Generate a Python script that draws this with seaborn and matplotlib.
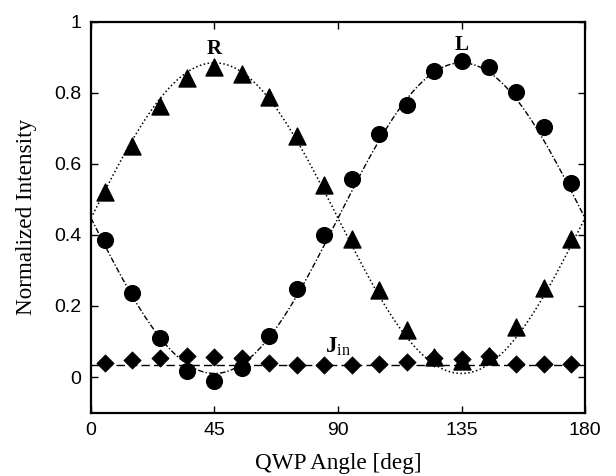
import matplotlib
matplotlib.use("Agg")
import matplotlib.pyplot as plt
import numpy as np
import pandas as pd
import seaborn as sns

# measured data (QWP angle in degrees)
angles = [5, 15, 25, 35, 45, 55, 65, 75, 85, 95, 105, 115, 125, 135, 145, 155, 165, 175]
r_meas = [0.522, 0.652, 0.763, 0.841, 0.872, 0.853, 0.790, 0.680, 0.540,
          0.390, 0.245, 0.132, 0.057, 0.045, 0.059, 0.142, 0.250, 0.390]
l_meas = [0.386, 0.238, 0.109, 0.017, -0.010, 0.024, 0.115, 0.249, 0.400,
          0.557, 0.684, 0.765, 0.863, 0.891, 0.872, 0.802, 0.705, 0.546]
jin_meas = [0.040, 0.048, 0.053, 0.059, 0.057, 0.053, 0.040, 0.034, 0.034,
            0.034, 0.038, 0.043, 0.053, 0.050, 0.059, 0.038, 0.036, 0.036]

# model curve parameters
fit_offset = 0.4475
fit_amplitude = 0.4375
jin_level = 0.034

sns.set_style("ticks")
plt.rcParams["font.family"] = ["Liberation Sans", "DejaVu Sans"]
plt.rcParams["mathtext.fontset"] = "custom"
plt.rcParams["mathtext.rm"] = "Liberation Serif"
plt.rcParams["mathtext.bf"] = "Liberation Serif:bold"
plt.rcParams["text.color"] = "black"
plt.rcParams["axes.labelcolor"] = "black"
plt.rcParams["xtick.color"] = "black"
plt.rcParams["ytick.color"] = "black"
plt.rcParams["axes.edgecolor"] = "black"

fig = plt.figure(figsize=(6.16, 4.76), dpi=100)
ax = fig.add_axes([0.1477, 0.1334, 0.802, 0.8204])

# theory curves R / L
theta = np.linspace(0, 180, 361)
model = pd.DataFrame({
    "angle": theta,
    "R": fit_offset + fit_amplitude * np.sin(np.radians(2 * theta)),
    "L": fit_offset - fit_amplitude * np.sin(np.radians(2 * theta)),
})
sns.lineplot(data=model, x="angle", y="R", ax=ax, color="black", lw=1.1,
             linestyle=(0, (1, 1.6)))
sns.lineplot(data=model, x="angle", y="L", ax=ax, color="black", lw=1.0,
             linestyle=(0, (4, 1.5, 1, 1.5)))
ax.axhline(jin_level, color="black", lw=1.0, linestyle=(0, (6, 3)))

meas = pd.DataFrame({"angle": angles, "R": r_meas, "L": l_meas, "Jin": jin_meas})
sns.scatterplot(data=meas, x="angle", y="Jin", ax=ax, marker="D", s=75,
                color="black", edgecolor="black", zorder=3)
sns.scatterplot(data=meas, x="angle", y="L", ax=ax, marker="o", s=130,
                color="black", edgecolor="black", zorder=3)
sns.scatterplot(data=meas, x="angle", y="R", ax=ax, marker="^", s=150,
                color="black", edgecolor="black", zorder=3)

serif = ["Liberation Serif", "DejaVu Serif"]
ax.text(45, 0.923, "R", ha="center", va="center", fontsize=15,
        fontweight="bold", family=serif)
ax.text(135, 0.935, "L", ha="center", va="center", fontsize=15,
        fontweight="bold", family=serif)
ax.text(90, 0.085, r"$\mathbf{J}_{\mathrm{in}}$", ha="center", va="center",
        fontsize=16.5, family=serif)

ax.set_xlim(0, 180)
ax.set_ylim(-0.1, 1)
ax.set_xticks([0, 45, 90, 135, 180])
ax.set_yticks([0, 0.2, 0.4, 0.6, 0.8, 1])
ax.set_yticklabels(["0", "0.2", "0.4", "0.6", "0.8", "1"])
ax.tick_params(direction="in", top=True, right=True, length=5, width=1,
               labelsize=14, pad=7)
for sp in ax.spines.values():
    sp.set_visible(True)
    sp.set_linewidth(1.6)

ax.set_xlabel("QWP Angle [deg]", fontsize=16.7, family=serif, labelpad=10)
ax.set_ylabel("Normalized Intensity", fontsize=16.7, family=serif, labelpad=12)

fig.savefig("out.png", dpi=100)
